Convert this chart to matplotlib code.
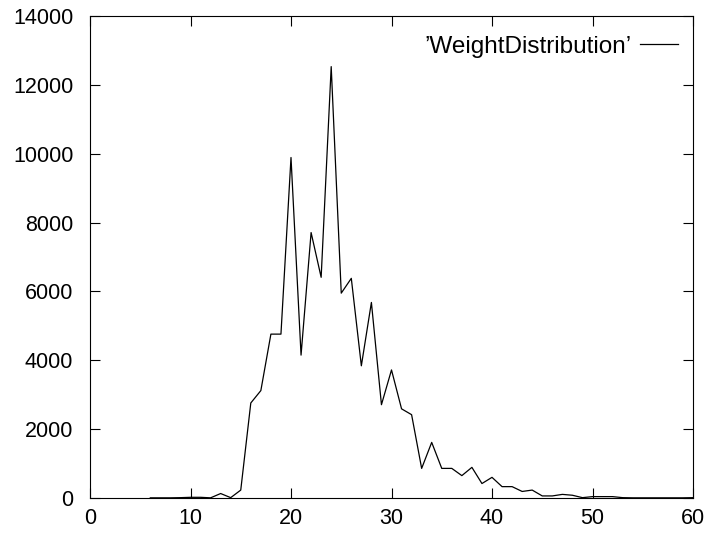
import matplotlib
matplotlib.use("Agg")
import matplotlib.pyplot as plt

# weight bins and counts
weight = list(range(6, 61))
count = [5, 5, 5, 10, 20, 20, 5, 130, 10, 230,
         2760, 3120, 4760, 4760, 9890, 4150, 7710, 6410, 12530, 5950,
         6380, 3840, 5680, 2710, 3720, 2590, 2420, 860, 1615, 860,
         860, 650, 890, 420, 600, 330, 330, 190, 230, 60,
         60, 105, 80, 10, 40, 40, 40, 10, 5, 5,
         5, 5, 5, 5, 10]

xticks = [0, 10, 20, 30, 40, 50, 60]
yticks = [0, 2000, 4000, 6000, 8000, 10000, 12000, 14000]


def main():
    plt.rcParams['font.family'] = ['Liberation Sans', 'DejaVu Sans']
    fig = plt.figure(figsize=(7.14, 5.34), dpi=100)
    ax = fig.add_axes([90 / 714, 1 - 498 / 534, 603 / 714, 482 / 534])

    ax.plot(weight, count, '-k', lw=0.9, label='\u2019WeightDistribution\u2019')

    ax.set_xlim(0, 60)
    ax.set_ylim(0, 14000)
    ax.set_xticks(xticks)
    ax.set_yticks(yticks)
    ax.tick_params(direction='in', top=True, right=True, length=7,
                   width=0.8, labelsize=15.5)
    ax.tick_params(axis='y', pad=12)
    ax.tick_params(axis='x', pad=7)
    for s in ax.spines.values():
        s.set_linewidth(0.8)

    ax.legend(loc='upper right', bbox_to_anchor=(0.9758, 0.9593),
              frameon=False, markerfirst=False,
              fontsize=17.5, handlelength=1.6, handletextpad=0.33,
              borderpad=0, borderaxespad=0)

    fig.savefig('out.png', dpi=100)


if __name__ == "__main__":
    main()
